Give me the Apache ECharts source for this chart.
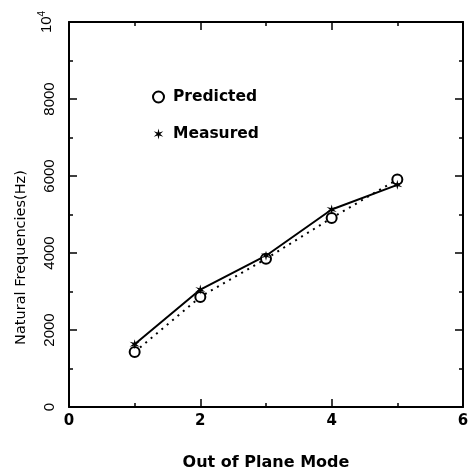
<!DOCTYPE html>
<html>
<head>
<meta charset="utf-8">
<script src="https://cdn.jsdelivr.net/npm/echarts@6/dist/echarts.min.js"></script>
<style>html,body{margin:0;padding:0;background:#fff}#c{width:472px;height:476px}</style>
</head>
<body>
<div id="c"></div>
<script>
var modes = [1, 2, 3, 4, 5];
var predicted = [1430, 2860, 3850, 4910, 5910];
var measured = [1630, 3050, 3930, 5130, 5770];
var xTicks = [0, 2, 4, 6];
var yTicks = [0, 2000, 4000, 6000, 8000, 10000];
var seriesNames = ['Predicted', 'Measured'];

var starPath = 'path://M0,-5 L0.8,-1.39 L4.33,-2.5 L1.6,0 L4.33,2.5 L0.8,1.39 L0,5 L-0.8,1.39 L-4.33,2.5 L-1.6,0 L-4.33,-2.5 L-0.8,-1.39 Z';
var sans = 'DejaVu Sans, sans-serif';
var lib = 'Liberation Sans, Arial, sans-serif';

function pairs(xs, ys) { return xs.map(function (x, i) { return [x, ys[i]]; }); }

var lineOn = { show: true, onZero: false, lineStyle: { color: '#000', width: 2 } };
var lineOff = { show: false, onZero: false };
function tk(len) { return { show: true, inside: true, length: len, lineStyle: { color: '#000', width: 1.5 } }; }
function helperX(pos, interval, len, showLine) {
  return { type: 'value', min: 0, max: 6, interval: interval, position: pos,
    axisLine: showLine ? lineOn : lineOff, axisTick: tk(len),
    splitLine: { show: false }, axisLabel: { show: false } };
}
function helperY(pos, interval, len, showLine) {
  return { type: 'value', min: 0, max: 10000, interval: interval, position: pos,
    axisLine: showLine ? lineOn : lineOff, axisTick: tk(len),
    splitLine: { show: false }, axisLabel: { show: false } };
}

var chart = echarts.init(document.getElementById('c'));
chart.setOption({
  animation: false,
  backgroundColor: '#fff',
  grid: { left: 69, right: 9, top: 22, bottom: 67 },
  legend: {
    orient: 'vertical', left: 147, top: 84, itemGap: 21,
    itemWidth: 11, itemHeight: 11,
    textStyle: { fontFamily: sans, fontWeight: 'bold', fontSize: 15.5, color: '#000', padding: [0, 0, 0, 4] },
    data: [
      { name: seriesNames[0], icon: 'circle', itemStyle: { color: '#fff', borderColor: '#000', borderWidth: 2 } },
      { name: seriesNames[1], icon: starPath, itemStyle: { color: '#000', borderWidth: 0 } }
    ]
  },
  xAxis: [{
    type: 'value', min: 0, max: 6, interval: 2, position: 'bottom',
    name: 'Out of Plane Mode', nameLocation: 'middle', nameGap: 48,
    nameTextStyle: { fontFamily: sans, fontWeight: 'bold', fontSize: 16, color: '#000' },
    axisLine: lineOn, axisTick: tk(8),
    splitLine: { show: false },
    axisLabel: { margin: 7, fontFamily: sans, fontWeight: 'bold', fontSize: 15, color: '#000',
      formatter: function (v) { return xTicks.indexOf(v) >= 0 ? String(v) : ''; } }
  },
    helperX('bottom', 1, 4, false),
    helperX('top', 2, 8, true),
    helperX('top', 1, 4, false)
  ],
  yAxis: [{
    type: 'value', min: 0, max: 10000, interval: 2000, position: 'left',
    name: 'Natural Frequencies(Hz)', nameLocation: 'middle', nameGap: 40,
    nameTextStyle: { fontFamily: sans, fontSize: 14.5, color: '#000', padding: [0, 86, 0, 0] },
    axisLine: lineOn, axisTick: tk(8),
    splitLine: { show: false },
    axisLabel: { rotate: 90, margin: 12, fontFamily: lib, fontSize: 15, color: '#000',
      formatter: function (v) {
        if (yTicks.indexOf(v) < 0) return '';
        return v === 10000 ? '10{sup|4}' : String(v);
      },
      rich: { sup: { fontFamily: lib, fontSize: 10, color: '#000', verticalAlign: 'top', padding: [0, 0, 10, 0] } }
    }
  },
    helperY('left', 1000, 4, false),
    helperY('right', 2000, 8, true),
    helperY('right', 1000, 4, false)
  ],
  series: [{
    name: seriesNames[0], type: 'line', data: pairs(modes, predicted),
    symbol: 'circle', symbolSize: 10,
    itemStyle: { color: '#fff', borderColor: '#000', borderWidth: 2 },
    lineStyle: { color: '#000', width: 2, type: [2, 5] }
  }, {
    name: seriesNames[1], type: 'line', data: pairs(modes, measured),
    symbol: starPath, symbolSize: 10,
    itemStyle: { color: '#000' },
    lineStyle: { color: '#000', width: 2 }
  }]
});
</script>
</body>
</html>
